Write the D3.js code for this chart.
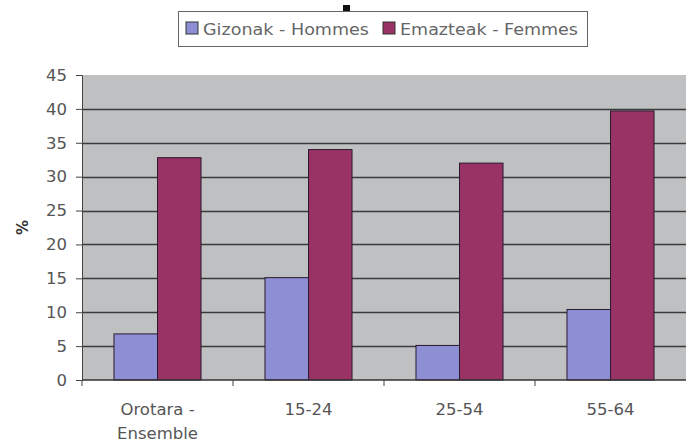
<!DOCTYPE html>
<html>
<head>
<meta charset="utf-8">
<script src="https://cdn.jsdelivr.net/npm/d3@7"></script>
<style>
  body { margin: 0; background: #fff; }
  text { font-family: "DejaVu Sans", "Liberation Sans", Arial, sans-serif; fill: #555; }
</style>
</head>
<body>
<script>
// data
var categories = [["Orotara -", "Ensemble"], ["15-24"], ["25-54"], ["55-64"]];
var seriesNames = ["Gizonak - Hommes", "Emazteak - Femmes"];
var hommes = [6.8, 15.1, 5.1, 10.4];
var femmes = [32.8, 34.0, 32.0, 39.7];
var yTicks = [0, 5, 10, 15, 20, 25, 30, 35, 40, 45];

var colors = {
  hommes: "#8e8ed4",
  femmes: "#993366",
  plot: "#bfc0c2",
  grid: "#3a3a3a"
};

var width = 686, height = 442;
var plot = { left: 82, right: 686, top: 75, bottom: 380 };
var fontSize = "16.5px";

var svg = d3.select("body").append("svg")
  .attr("width", width)
  .attr("height", height);

var keys = categories.map(function(d, i) { return i; });

var x0 = d3.scaleBand().domain(keys).range([plot.left, plot.right]).padding(0);
var x1 = d3.scaleBand().domain([0, 1]).range([0, x0.bandwidth()])
  .paddingInner(0).paddingOuter(0.735);
var y = d3.scaleLinear().domain([0, 45]).range([plot.bottom, plot.top]);

// plot background
svg.append("rect")
  .attr("x", plot.left).attr("y", plot.top)
  .attr("width", plot.right - plot.left).attr("height", plot.bottom - plot.top)
  .attr("fill", colors.plot);

// gridlines (none on the top edge)
svg.append("g").selectAll("line")
  .data(yTicks.filter(function(t) { return t > 0 && t < 45; }))
  .enter().append("line")
  .attr("x1", plot.left).attr("x2", plot.right)
  .attr("y1", function(d) { return Math.round(y(d)) + 0.5; })
  .attr("y2", function(d) { return Math.round(y(d)) + 0.5; })
  .attr("stroke", colors.grid).attr("stroke-width", 1.3);

// bars
var groups = svg.append("g").selectAll("g")
  .data(keys)
  .enter().append("g")
  .attr("transform", function(d) { return "translate(" + x0(d) + ",0)"; });

groups.selectAll("rect")
  .data(function(i) { return [{ s: 0, v: hommes[i] }, { s: 1, v: femmes[i] }]; })
  .enter().append("rect")
  .attr("x", function(d) { return x1(d.s); })
  .attr("y", function(d) { return y(d.v); })
  .attr("width", x1.bandwidth())
  .attr("height", function(d) { return y(0) - y(d.v); })
  .attr("fill", function(d) { return d.s === 0 ? colors.hommes : colors.femmes; })
  .attr("stroke", "#2a1a30").attr("stroke-width", 1);

// y axis
var yAxis = svg.append("g")
  .attr("transform", "translate(" + plot.left + ",0)")
  .call(d3.axisLeft(y).tickValues(yTicks).tickSize(6).tickPadding(9));
yAxis.select(".domain").attr("stroke", "#444");
yAxis.selectAll(".tick line").attr("stroke", "#444");
yAxis.selectAll(".tick text")
  .style("font-size", fontSize).style("fill", "#555")
  .style("font-family", "'DejaVu Sans', 'Liberation Sans', Arial, sans-serif");

// x axis: ticks at category boundaries
var xAxis = svg.append("g")
  .attr("transform", "translate(0," + plot.bottom + ")");
xAxis.append("line")
  .attr("x1", plot.left).attr("x2", plot.right)
  .attr("stroke", "#333").attr("stroke-width", 1.5);
xAxis.selectAll(".xt")
  .data(keys)
  .enter().append("line")
  .attr("class", "xt")
  .attr("x1", function(d) { return x0(d); }).attr("x2", function(d) { return x0(d); })
  .attr("y1", 0).attr("y2", 6)
  .attr("stroke", "#444");

xAxis.selectAll(".xl")
  .data(keys)
  .enter().append("text")
  .attr("class", "xl")
  .attr("text-anchor", "middle")
  .attr("x", function(d) { return x0(d) + x0.bandwidth() / 2; })
  .attr("y", 35)
  .style("font-size", fontSize)
  .each(function(i) {
    var t = d3.select(this);
    categories[i].forEach(function(line, j) {
      t.append("tspan")
        .attr("x", x0(i) + x0.bandwidth() / 2)
        .attr("dy", j === 0 ? 0 : 24)
        .text(line);
    });
  });

// y label
svg.append("text")
  .attr("transform", "translate(28," + ((plot.top + plot.bottom) / 2) + ") rotate(-90)")
  .attr("text-anchor", "middle")
  .style("font-size", "15px").style("font-weight", "bold").style("fill", "#333")
  .text("%");

// stray title fragment at the top
svg.append("rect")
  .attr("x", 343).attr("y", 5).attr("width", 7).attr("height", 7)
  .attr("fill", "#111");

// legend
var legend = svg.append("g").attr("transform", "translate(178,11)");
legend.append("rect")
  .attr("x", 0.5).attr("y", 0.5).attr("width", 409).attr("height", 35)
  .attr("fill", "#fff").attr("stroke", "#666").attr("stroke-width", 1);

var legendX = [8, 205];
var items = legend.selectAll(".li")
  .data(seriesNames)
  .enter().append("g")
  .attr("class", "li")
  .attr("transform", function(d, i) { return "translate(" + legendX[i] + ",0)"; });
items.append("rect")
  .attr("x", 0).attr("y", 11).attr("width", 12).attr("height", 12)
  .attr("fill", function(d, i) { return i === 0 ? colors.hommes : colors.femmes; })
  .attr("stroke", "#333");
items.append("text")
  .attr("x", 17).attr("y", 24)
  .attr("textLength", function(d, i) { return i === 0 ? 166 : 178; })
  .attr("lengthAdjust", "spacingAndGlyphs")
  .style("font-size", "16.5px").style("fill", "#666")
  .text(function(d) { return d; });
</script>
</body>
</html>
